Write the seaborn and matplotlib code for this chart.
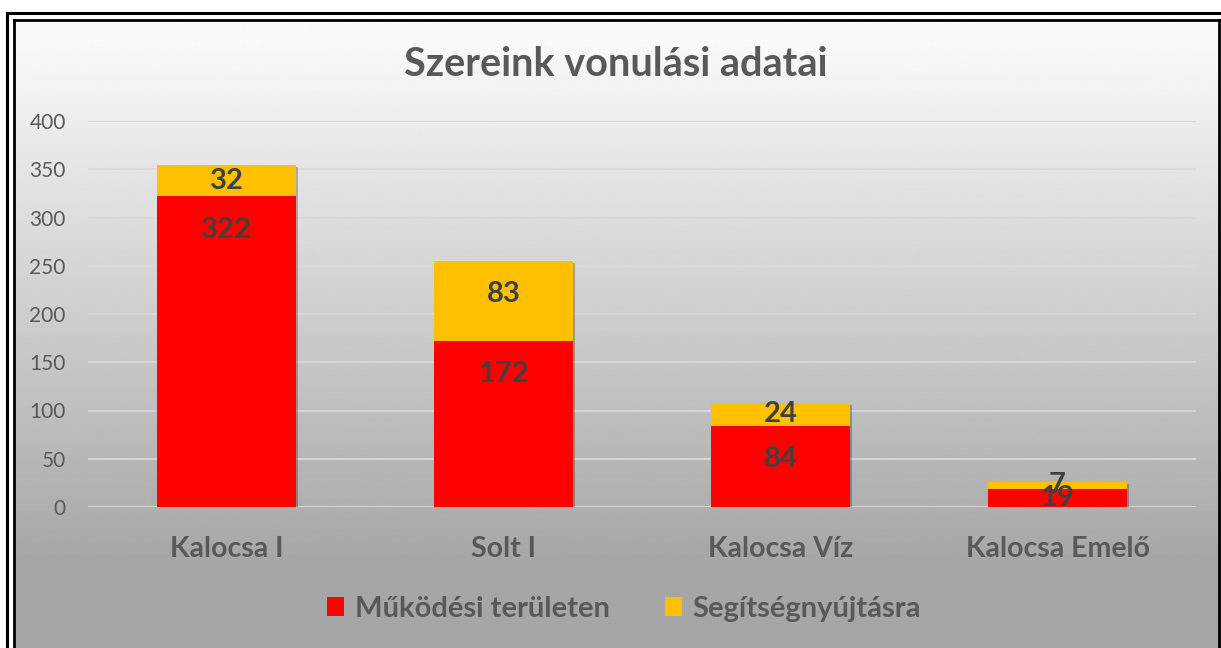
import numpy as np
import pandas as pd
import matplotlib
matplotlib.use("Agg")
import matplotlib.pyplot as plt
import seaborn as sns
from matplotlib.patches import Rectangle
from matplotlib.lines import Line2D
import matplotlib.patheffects as pe

# ---- data ----
categories = ["Kalocsa I", "Solt I", "Kalocsa Víz", "Kalocsa Emelő"]
mukodesi = [322, 172, 84, 19]
segitseg = [32, 83, 24, 7]
series_names = ["Működési területen", "Segítségnyújtásra"]
title = "Szereink vonulási adatai"
y_ticks = [0, 50, 100, 150, 200, 250, 300, 350, 400]

RED = "#FF0000"
YEL = "#FFC000"
TXT = "#595959"
LBL = "#404040"

sns.set_theme(style="white")
plt.rcParams["font.family"] = ["Lato", "DejaVu Sans"]

W, H = 1221, 648
fig = plt.figure(figsize=(W / 100, H / 100), dpi=100)
fig.patch.set_facecolor("white")

# gradient background inside inner frame
bg = fig.add_axes([0, 0, 1, 1], zorder=-10)
bg.axis("off")
bg.set_xlim(0, 1)
bg.set_ylim(0, 1)
rows = np.arange(H)
vals = np.clip(250 - (rows - 20) * (84 / 540), 166, 250) / 255.0
grad = np.tile(vals[:, None], (1, 2))
bg.imshow(grad, cmap="gray", vmin=0, vmax=1, aspect="auto",
          extent=[13.5 / W, 1, 0, 1 - 20 / H], origin="upper", interpolation="bilinear")

# double frame
def fl(xs, ys, lw):
    fig.add_artist(Line2D([x / W for x in xs], [1 - y / H for y in ys],
                          transform=fig.transFigure, color="black", lw=lw,
                          solid_capstyle="projecting"))
fl([7.5, 7.5], [12.5, H + 5], 2.2)
fl([7.5, W + 5], [12.5, 12.5], 2.2)
fl([13.5, 13.5], [20, H + 5], 2.0)
fl([13.5, 1219], [20, 20], 2.0)
fl([1219, 1219], [20, H + 5], 2.0)

# main axes
ax = fig.add_axes([88 / W, 141 / H, 1108 / W, 386 / H])
ax.patch.set_alpha(0)

df = pd.DataFrame({
    "cat": categories,
    "total": np.array(mukodesi) + np.array(segitseg),
    "mk": mukodesi,
})
shadow = [pe.SimplePatchShadow(offset=(1.5, -1.5), shadow_rgbFace="black", alpha=0.25), pe.Normal()]
sns.barplot(data=df, x="cat", y="total", color=YEL, width=0.5, ax=ax,
            saturation=1, zorder=3, linewidth=0)
sns.barplot(data=df, x="cat", y="mk", color=RED, width=0.5, ax=ax,
            saturation=1, zorder=4, linewidth=0)
for i, p in enumerate(ax.patches):
    if i < len(categories):
        p.set_path_effects(shadow)

ax.set_ylim(0, 400)
ax.set_xlim(-0.5, len(categories) - 0.5)
ax.set_yticks(y_ticks)
ax.set_axisbelow(True)
ax.yaxis.grid(True, color="#d9d9d9", lw=1.3)
for s in ax.spines.values():
    s.set_visible(False)
ax.set_xlabel("")
ax.set_ylabel("")
ax.tick_params(axis="y", length=0, pad=16, labelsize=15, labelcolor=TXT)
ax.tick_params(axis="x", length=0, pad=21, labelsize=20.5, labelcolor=TXT)
for t in ax.get_xticklabels():
    t.set_fontweight("bold")

# data labels
px_per_unit = 386 / 400
def label(i, lo, val):
    hpx = val * px_per_unit
    if hpx > 60:
        ax.annotate(str(val), (i, lo + val), xytext=(0, -24), textcoords="offset points",
                    ha="center", va="center", fontsize=21, fontweight="bold", color=LBL, zorder=6)
    else:
        ax.annotate(str(val), (i, lo + val / 2), ha="center", va="center",
                    fontsize=21, fontweight="bold", color=LBL, zorder=6)

for i in range(len(categories)):
    label(i, 0, mukodesi[i])
    label(i, mukodesi[i], segitseg[i])

# title
fig.text(616 / W, 1 - 65 / H, title, ha="center", va="center",
         fontsize=28.5, fontweight="bold", color=TXT)

# legend
handles = [Rectangle((0, 0), 1, 1, fc=RED, lw=0), Rectangle((0, 0), 1, 1, fc=YEL, lw=0)]
fig.legend(handles, series_names, loc="center", bbox_to_anchor=(624 / W, 1 - 609 / H),
           ncol=2, frameon=False, prop=dict(size=21, weight="bold"), labelcolor=TXT,
           handlelength=0.6, handleheight=0.6, columnspacing=1.9, handletextpad=0.35)

fig.savefig("out.png", dpi=100)
